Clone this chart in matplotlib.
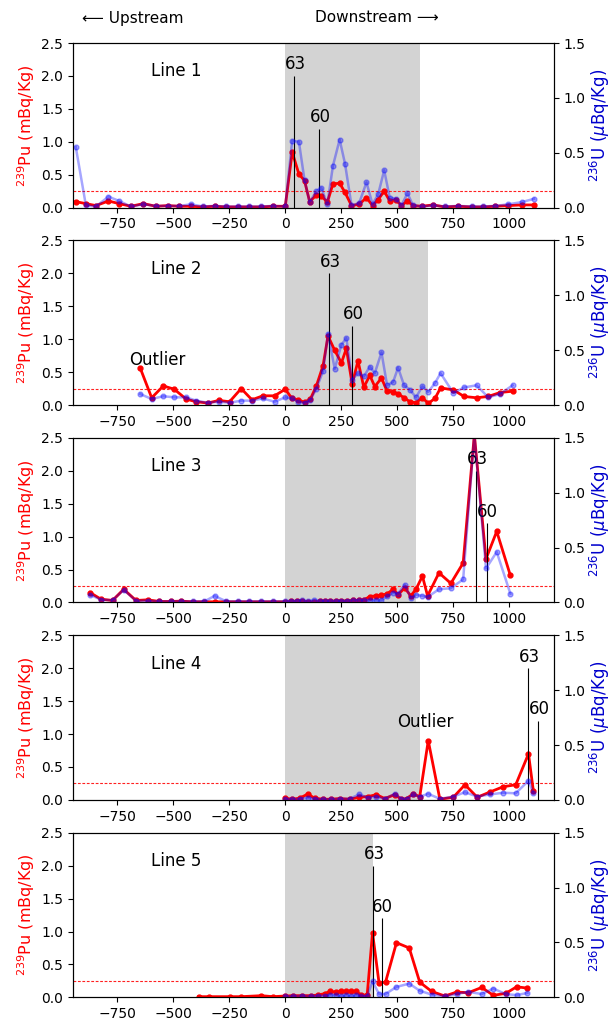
import numpy as np
import matplotlib
matplotlib.use('Agg')
import matplotlib.pyplot as plt

nan = np.nan

# distance along the line (m), 239Pu (mBq/Kg), 236U (uBq/Kg)
x1 = [-936, -891, -846, -790, -742, -690, -634, -578, -525, -473, -421, -369, -316, -264, -212, -160, -107, -55, 0,
      31, 61, 86, 109, 139, 161, 188, 213, 243, 267, 296, 330, 363, 390, 415, 442, 467, 494, 519, 546,
      571, 609, 661, 713, 773, 833, 885, 937, 997, 1057, 1112]
pu1 = [0.09, 0.06, 0.03, 0.10, 0.06, 0.02, 0.06, 0.02, 0.03, 0.02, 0.02, 0.01, 0.02, 0.01, 0.01, 0.01, 0.01, 0.02, 0.02,
       0.84, 0.51, 0.41, 0.09, 0.19, 0.18, 0.08, 0.36, 0.37, 0.23, 0.03, 0.05, 0.15, 0.03, 0.12, 0.25, 0.10, 0.12, 0.03, 0.10,
       0.03, 0.02, 0.04, 0.01, 0.02, 0.01, 0.01, 0.02, 0.03, 0.04, 0.04]
u1 = [0.55, 0.02, 0.01, 0.10, 0.06, 0.01, 0.03, 0.015, 0.015, 0.015, 0.03, 0.01, 0.015, 0.01, 0.01, 0.01, 0.01, 0.015, 0.01,
      0.61, 0.60, 0.25, 0.05, 0.15, 0.18, 0.03, 0.38, 0.62, 0.40, 0.02, 0.04, 0.23, 0.03, 0.12, 0.34, 0.09, 0.08, 0.02, 0.13,
      0.02, 0.01, 0.02, 0.01, 0.015, 0.01, 0.01, 0.015, 0.03, 0.05, 0.08]

x2 = [-648, -597, -545, -496, -443, -399, -346, -297, -249, -197, -149, -100, -48, 0, 30, 57, 87, 112, 139, 169,
      191, 221, 251, 273, 299, 325, 351, 378, 400, 430, 455, 482, 504, 531, 557, 584, 613, 639, 669, 694,
      751, 799, 855, 907, 960, 1016]
pu2 = [0.56, 0.11, 0.29, 0.24, 0.09, 0.05, 0.03, 0.07, 0.05, 0.25, 0.08, 0.14, 0.14, 0.24, 0.10, 0.08, 0.04, 0.09, 0.29, 0.60,
       1.05, 0.83, 0.64, 0.86, 0.32, 0.67, 0.27, 0.45, 0.28, 0.41, 0.21, 0.20, 0.17, 0.11, 0.05, 0.035, 0.11, 0.025, 0.10, 0.26,
       0.23, 0.13, 0.11, 0.13, 0.19, 0.21]
u2 = [0.10, 0.055, 0.08, 0.07, 0.07, 0.04, 0.02, 0.03, 0.02, 0.04, 0.04, 0.06, 0.03, 0.07, 0.06, 0.03, 0.02, 0.045, 0.15, 0.31,
      0.65, 0.33, 0.55, 0.61, 0.23, 0.29, 0.26, 0.35, 0.29, 0.48, 0.18, 0.21, 0.34, 0.18, 0.14, 0.07, 0.17, 0.12, 0.20, 0.29,
      0.11, 0.16, 0.18, 0.07, 0.10, 0.18]

x3 = [-872, -824, -772, -722, -667, -615, -563, -510, -466, -413, -361, -316, -264, -212, -160, -107, -55, 0, 27, 52,
      76, 101, 127, 154, 176, 201, 225, 251, 276, 303, 328, 352, 378, 404, 430, 455, 482, 504, 534, 561,
      584, 613, 636, 687, 740, 795, 845, 897, 945, 1006]
pu3 = [0.15, 0.05, 0.03, 0.20, 0.03, 0.04, 0.015, 0.015, 0.02, 0.01, 0.01, 0.01, 0.01, 0.01, 0.01, 0.01, 0.01, 0.01, 0.015, 0.015,
       0.02, 0.01, 0.01, 0.015, 0.015, 0.02, 0.02, 0.02, 0.025, 0.03, 0.03, 0.04, 0.09, 0.10, 0.11, 0.13, 0.20, 0.12, 0.22, 0.10,
       0.20, 0.40, 0.10, 0.45, 0.29, 0.60, 2.55, 0.66, 1.08, 0.41]
u3 = [0.07, 0.025, 0.02, 0.115, 0.015, 0.015, 0.01, 0.01, 0.01, 0.01, 0.01, 0.06, 0.01, 0.01, 0.01, 0.01, 0.01, 0.01, 0.015, 0.015,
      0.02, 0.01, 0.02, 0.015, 0.015, 0.015, 0.015, 0.015, 0.015, 0.02, 0.02, 0.02, 0.02, 0.02, 0.02, 0.055, 0.09, 0.08, 0.16, 0.04,
      0.07, 0.06, 0.05, 0.12, 0.13, 0.21, 1.53, 0.31, 0.46, 0.08]

x4 = [0, 31, 64, 101, 131, 169, 206, 243, 288, 330, 370, 407, 445, 489, 519, 542, 571, 601, 639, 691,
      751, 803, 858, 915, 974, 1030, 1087, 1109]
pu4 = [0.025, 0.01, 0.025, 0.09, 0.025, 0.01, 0.01, 0.02, 0.01, 0.04, 0.05, 0.08, 0.02, 0.08, 0.01, 0.02, 0.09, 0.05, 0.90, 0.01,
       0.04, 0.23, 0.04, 0.12, 0.20, 0.23, 0.70, 0.13]
u4 = [0.01, 0.005, 0.01, 0.02, 0.01, 0.005, 0.005, 0.01, 0.01, 0.05, 0.02, 0.03, 0.01, 0.055, 0.01, 0.01, 0.05, 0.03, 0.055, 0.01,
      0.03, 0.07, 0.03, 0.05, 0.065, 0.06, 0.175, 0.06]

x5 = [-387, -339, -249, -197, -107, -55, 0, 34, 75, 116, 146, 176, 201, 225, 251, 273, 296, 315, 340, 366,
      390, 419, 448, 497, 554, 601, 654, 713, 766, 818, 878, 930, 985, 1034, 1082]
pu5 = [0.01, 0.01, 0.01, 0.01, 0.025, 0.01, 0.02, 0.025, 0.025, 0.025, 0.035, 0.056, 0.09, 0.08, 0.09, 0.09, 0.09, 0.09, 0.035, 0.035,
       0.98, 0.22, 0.23, 0.83, 0.75, 0.23, 0.09, 0.02, 0.08, 0.07, 0.15, 0.03, 0.06, 0.16, 0.14]
u5 = [nan, nan, nan, nan, nan, nan, 0.01, 0.01, 0.015, 0.01, 0.015, 0.015, 0.02, 0.02, 0.01, 0.02, 0.01, 0.02, 0.01, 0.01,
      0.145, 0.03, 0.03, 0.095, 0.125, 0.06, 0.025, 0.01, 0.03, 0.05, 0.03, 0.08, 0.03, 0.02, 0.04]

lines = [(x1, pu1, u1), (x2, pu2, u2), (x3, pu3, u3), (x4, pu4, u4), (x5, pu5, u5)]
shade_end = [600, 640, 585, 600, 390]
pos63 = [40, 195, 853, 1085, 392]
pos60 = [150, 298, 900, 1131, 431]
outliers = {1: (-700, 0.68), 3: (500, 1.18)}

fig, axs = plt.subplots(5, 1, figsize=(6.16, 10.25), dpi=100)
plt.subplots_adjust(left=0.118, right=0.899, top=0.958, bottom=0.027, hspace=0.2)

for i, ax in enumerate(axs):
    x, pu, u = lines[i]
    ax.axvspan(0, shade_end[i], color='#d3d3d3', zorder=0, lw=0)
    ax.axhline(0.25, color='#ff2020', ls=(0, (2.5, 1.5)), lw=0.8, zorder=1)
    ax.plot(x, pu, color='red', lw=2, marker='o', ms=3.5, zorder=3)
    ax.set_xlim(-950, 1200)
    ax.set_ylim(0, 2.5)
    ax.set_xticks([-750, -500, -250, 0, 250, 500, 750, 1000])
    ax.set_yticks([0, 0.5, 1.0, 1.5, 2.0, 2.5])
    ax.set_ylabel(r'$^{239}$Pu (mBq/Kg)', color='red', fontsize=11.5, labelpad=3)
    ax.text(-600, 2.07, 'Line %d' % (i + 1), fontsize=12, va='center')
    ax.vlines(pos63[i], 0, 2.0, color='black', lw=0.8, zorder=4)
    ax.vlines(pos60[i], 0, 1.2, color='black', lw=0.8, zorder=4)
    ax.text(pos63[i] + 5, 2.04, '63', fontsize=12, ha='center', va='bottom', zorder=5)
    ax.text(pos60[i] + 5, 1.24, '60', fontsize=12, ha='center', va='bottom', zorder=5)
    if i in outliers:
        ox, oy = outliers[i]
        ax.text(ox, oy, 'Outlier', fontsize=12, va='center')

    ax2 = ax.twinx()
    ax2.plot(x, u, color='blue', lw=1.8, marker='o', ms=3.5, alpha=0.35)
    ax2.set_ylim(0, 1.5)
    ax2.set_yticks([0, 0.5, 1.0, 1.5])
    ax2.set_ylabel(r'$^{236}$U ($\mu$Bq/Kg)', color='mediumblue', fontsize=12, labelpad=2)

fig.text(133 / 616, 1 - 18 / 1025, '\u27f5 Upstream', fontsize=11, ha='center', va='center')
fig.text(377 / 616, 1 - 18 / 1025, 'Downstream \u27f6', fontsize=11, ha='center', va='center')

plt.savefig('out.png', dpi=100)
